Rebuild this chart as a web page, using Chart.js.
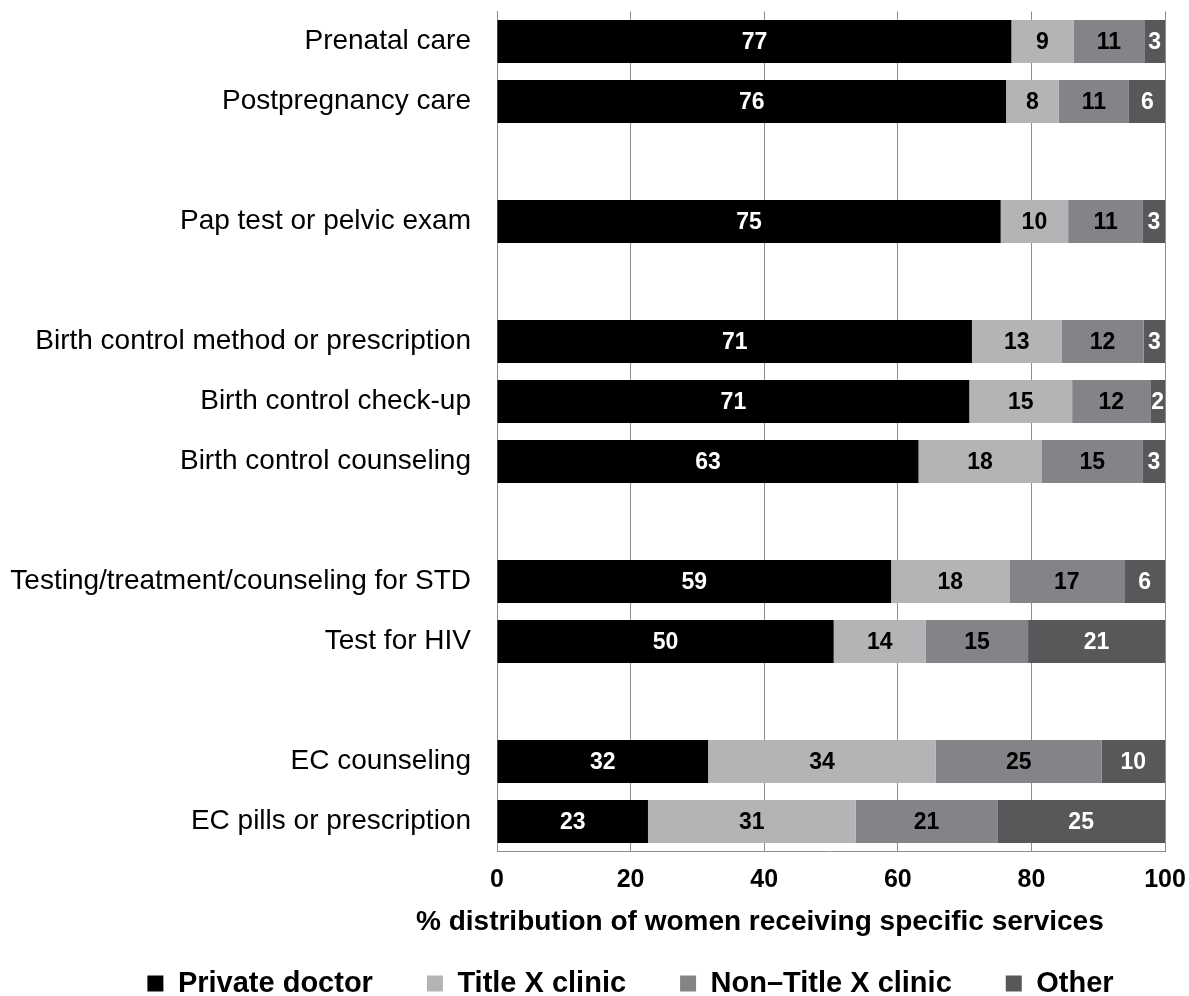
<!DOCTYPE html>
<html><head><meta charset="utf-8">
<script src="https://cdn.jsdelivr.net/npm/chart.js@4.4.1/dist/chart.umd.min.js"></script>
<style>html,body{margin:0;padding:0;background:#fff;} #wrap{width:1189px;height:996px;position:relative;}</style>
</head><body><div id="wrap"><canvas id="c"></canvas></div>
<script>
const categories = ['Prenatal care','Postpregnancy care','','Pap test or pelvic exam','','Birth control method or prescription','Birth control check-up','Birth control counseling','','Testing/treatment/counseling for STD','Test for HIV','','EC counseling','EC pills or prescription'];
const privateDoctor = [77.0, 76.2, null, 75.4, null, 71.1, 70.7, 63.1, null, 59.0, 50.4, null, 31.6, 22.6];
const titleXClinic  = [9.3, 7.9, null, 10.1, null, 13.4, 15.4, 18.4, null, 17.7, 13.8, null, 34.1, 31.1];
const nonTitleX     = [10.6, 10.5, null, 11.2, null, 12.3, 11.7, 15.2, null, 17.2, 15.3, null, 24.8, 21.2];
const other         = [3.1, 5.5, null, 3.3, null, 3.2, 2.2, 3.3, null, 6.1, 20.5, null, 9.5, 25.1];
const seriesNames = ['Private doctor','Title X clinic','Non\u2013Title X clinic','Other'];
const xTicks = [0, 20, 40, 60, 80, 100];
const xTitle = '% distribution of women receiving specific services';

const FONT = '"Liberation Sans", Arial, sans-serif';
const GRID = '#8c8c8c';
const CLEAR = 'rgba(0,0,0,0)';

const barLabels = {
  id: 'barLabels',
  afterDatasetsDraw(chart) {
    const ctx = chart.ctx;
    ctx.save();
    ctx.font = 'bold 23px ' + FONT;
    ctx.textAlign = 'center';
    ctx.textBaseline = 'middle';
    chart.data.datasets.forEach((ds, di) => {
      const meta = chart.getDatasetMeta(di);
      meta.data.forEach((el, i) => {
        const v = ds.data[i];
        if (v == null) return;
        ctx.fillStyle = ds.labelColor;
        ctx.fillText(String(Math.round(v)), (el.x + el.base) / 2, el.y + 1);
      });
    });
    ctx.restore();
  }
};

const axisTitle = {
  id: 'axisTitle',
  afterDraw(chart) {
    const ctx = chart.ctx;
    ctx.save();
    ctx.font = 'bold 28px ' + FONT;
    ctx.fillStyle = '#000';
    ctx.textAlign = 'left';
    ctx.textBaseline = 'alphabetic';
    ctx.fillText(xTitle, 416, 930);
    ctx.restore();
  }
};

const legendShift = {
  id: 'legendShift',
  afterLayout(chart) {
    const l = chart.legend;
    if (!l) return;
    const dx = 48, dy = 12;
    l.left += dx; l.right += dx; l.top += dy; l.bottom += dy;
  }
};

new Chart(document.getElementById('c'), {
  type: 'bar',
  data: {
    labels: categories,
    datasets: [
      { label: seriesNames[0], data: privateDoctor, backgroundColor: '#000000', labelColor: '#ffffff' },
      { label: seriesNames[1], data: titleXClinic, backgroundColor: '#b3b4b6', labelColor: '#000000' },
      { label: seriesNames[2], data: nonTitleX, backgroundColor: '#838488', labelColor: '#000000' },
      { label: seriesNames[3], data: other, backgroundColor: '#58585a', labelColor: '#ffffff' }
    ]
  },
  options: {
    indexAxis: 'y',
    responsive: true,
    maintainAspectRatio: false,
    animation: false,
    layout: { padding: { left: 0, right: 24, top: 11.5, bottom: 0 } },
    datasets: { bar: { categoryPercentage: 1.0, barPercentage: 0.72, borderWidth: 0 } },
    scales: {
      x: {
        stacked: true,
        min: 0, max: 100,
        afterBuildTicks: (s) => { s.ticks = xTicks.map(v => ({ value: v })); },
        afterFit: (s) => { s.height = 51.5; },
        grid: { color: GRID, lineWidth: 1, drawTicks: true, tickLength: 14, tickColor: CLEAR },
        border: { display: true, color: GRID, width: 1 },
        ticks: { color: '#000', font: { family: FONT, size: 25, weight: 'bold' }, padding: 0, maxRotation: 0 }
      },
      y: {
        stacked: true,
        afterFit: (s) => { s.width = 497; },
        grid: { display: true, color: CLEAR, drawTicks: true, tickLength: 26, tickColor: CLEAR },
        border: { display: true, color: GRID, width: 1 },
        ticks: { color: '#000', font: { family: FONT, size: 28, lineHeight: 0.8 }, padding: 0, autoSkip: false }
      }
    },
    plugins: {
      legend: {
        position: 'bottom',
        labels: { boxWidth: 16, boxHeight: 16, padding: 54, color: '#000', font: { family: FONT, size: 29, weight: 'bold' } }
      },
      tooltip: { enabled: false }
    }
  },
  plugins: [barLabels, axisTitle, legendShift]
});
</script>
</body></html>
